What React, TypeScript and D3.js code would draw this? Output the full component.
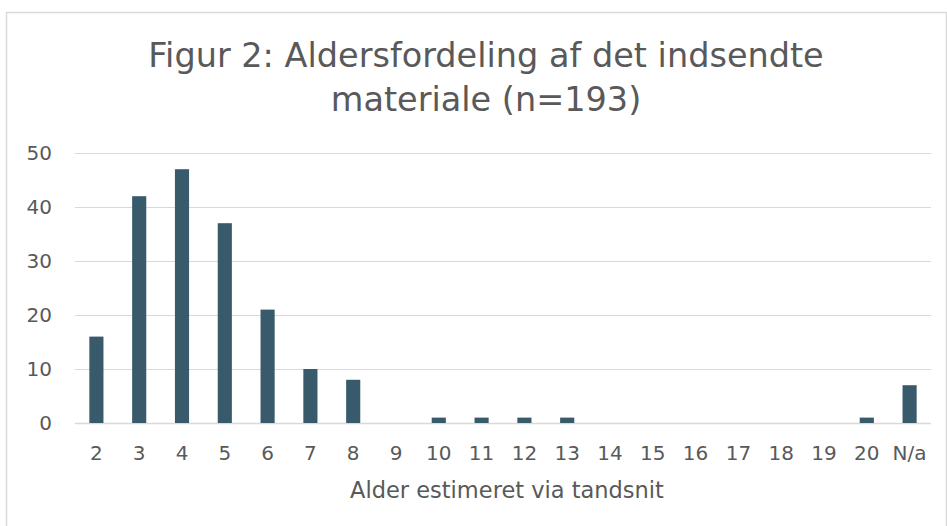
import React, { useEffect, useRef } from 'react';
import * as d3 from 'd3';

const categories = ['2', '3', '4', '5', '6', '7', '8', '9', '10', '11', '12', '13', '14', '15', '16', '17', '18', '19', '20', 'N/a'];
const counts = [16, 42, 47, 37, 21, 10, 8, 0, 1, 1, 1, 1, 0, 0, 0, 0, 0, 0, 1, 7];
const yTicks = [0, 10, 20, 30, 40, 50];
const titleLines = ['Figur 2: Aldersfordeling af det indsendte', 'materiale (n=193)'];
const xTitle = 'Alder estimeret via tandsnit';

const FONT = '"DejaVu Sans", Verdana, sans-serif';
const TEXT = '#595959';
const GRID = '#d9d9d9';
const BAR = '#385a6b';

const App: React.FC = () => {
  const svgRef = useRef<SVGSVGElement>(null);

  useEffect(() => {
    if (!svgRef.current) return;
    const width = 947;
    const height = 526;
    const svg = d3.select(svgRef.current);
    svg.selectAll('*').remove();

    const left = 75, right = 931, top = 153, bottom = 423;

    const x = d3.scaleBand<string>().domain(categories).range([left, right]).paddingInner(0.67).paddingOuter(0.335);
    const y = d3.scaleLinear().domain([0, 50]).range([bottom, top]);

    // chart border
    svg.append('rect')
      .attr('x', 6.5).attr('y', 12.5)
      .attr('width', 940).attr('height', 530)
      .attr('fill', '#fff')
      .attr('stroke', GRID)
      .attr('stroke-width', 1.5);

    // title
    svg.append('g').selectAll('text')
      .data(titleLines)
      .enter()
      .append('text')
      .attr('x', 486)
      .attr('y', (d, i) => 67 + i * 44)
      .attr('text-anchor', 'middle')
      .attr('fill', TEXT)
      .style('font-family', FONT)
      .style('font-size', '33.5px')
      .text(d => d);

    // gridlines
    svg.append('g').selectAll('line')
      .data(yTicks)
      .enter()
      .append('line')
      .attr('x1', left).attr('x2', right)
      .attr('y1', d => Math.round(y(d)) + 0.5)
      .attr('y2', d => Math.round(y(d)) + 0.5)
      .attr('stroke', GRID)
      .attr('stroke-width', d => d === 0 ? 1.5 : 1);

    // y labels
    svg.append('g').selectAll('text')
      .data(yTicks)
      .enter()
      .append('text')
      .attr('x', 52)
      .attr('y', d => y(d))
      .attr('dy', '0.36em')
      .attr('text-anchor', 'end')
      .attr('fill', TEXT)
      .style('font-family', FONT)
      .style('font-size', '20px')
      .text(d => d);

    // bars
    svg.append('g').selectAll('rect')
      .data(counts)
      .enter()
      .append('rect')
      .attr('x', (d, i) => x(categories[i])!)
      .attr('y', d => y(d))
      .attr('width', x.bandwidth())
      .attr('height', d => bottom - y(d))
      .attr('fill', BAR);

    // x labels
    svg.append('g').selectAll('text')
      .data(categories)
      .enter()
      .append('text')
      .attr('x', d => x(d)! + x.bandwidth() / 2)
      .attr('y', 460)
      .attr('text-anchor', 'middle')
      .attr('fill', TEXT)
      .style('font-family', FONT)
      .style('font-size', '20px')
      .text(d => d);

    svg.append('text')
      .attr('x', (left + right) / 2 + 4)
      .attr('y', 498)
      .attr('text-anchor', 'middle')
      .attr('fill', TEXT)
      .style('font-family', FONT)
      .style('font-size', '22.5px')
      .text(xTitle);

    svg.attr('width', width).attr('height', height);
  }, []);

  return (
    <svg ref={svgRef} width={947} height={526} viewBox="0 0 947 526"
      style={{ position: 'absolute', left: 0, top: 0, background: '#fff' }} />
  );
};

export default App;
